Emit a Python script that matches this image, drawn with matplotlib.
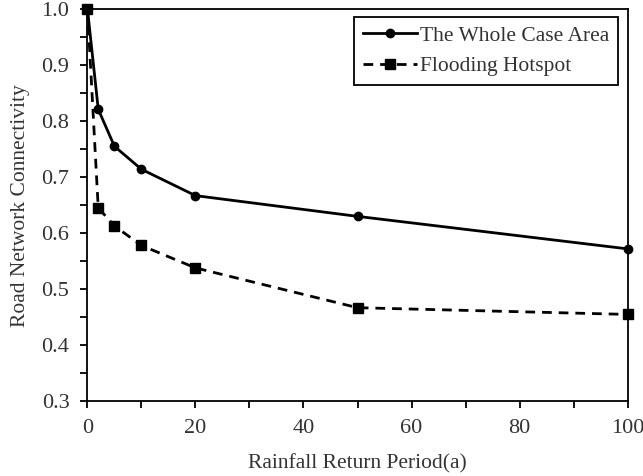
import matplotlib
matplotlib.use("Agg")
import matplotlib.pyplot as plt
from matplotlib.ticker import MultipleLocator

plt.rcParams["font.family"] = ["Liberation Serif", "DejaVu Serif"]

return_period = [0, 2, 5, 10, 20, 50, 100]
whole_area = [1.0, 0.821, 0.755, 0.714, 0.667, 0.630, 0.572]
hotspot = [1.0, 0.645, 0.613, 0.578, 0.538, 0.467, 0.455]

fig = plt.figure(figsize=(6.43, 4.76), dpi=100)
ax = fig.add_axes([0.136, 0.157, 0.840, 0.824])

ax.plot(return_period, whole_area, color="black", linewidth=2.0,
        marker="o", markersize=6, label="The Whole Case Area", clip_on=False, zorder=3)
ax.plot(return_period, hotspot, color="black", linewidth=2.0, linestyle=(0, (3.5, 2.5)),
        marker="s", markersize=6.5, label="Flooding Hotspot", clip_on=False, zorder=3)

ax.set_xlim(0, 100)
ax.set_ylim(0.3, 1.0)
ax.xaxis.set_major_locator(MultipleLocator(20))
ax.xaxis.set_minor_locator(MultipleLocator(10))
ax.yaxis.set_major_locator(MultipleLocator(0.1))
ax.yaxis.set_minor_locator(MultipleLocator(0.05))
ax.yaxis.set_major_formatter(plt.FormatStrFormatter("%.1f"))

ax.tick_params(which="both", direction="out", width=1.3, color="black",
               labelsize=16, labelcolor="#333333")
ax.tick_params(which="major", length=5, pad=8)
ax.tick_params(which="minor", length=5)
for s in ax.spines.values():
    s.set_linewidth(1.3)

ax.set_xlabel("Rainfall Return Period(a)", fontsize=15.5, color="#333333", labelpad=11)
ax.set_ylabel("Road Network Connectivity", fontsize=15.5, color="#333333", labelpad=8)

leg = ax.legend(loc="upper right", bbox_to_anchor=(0.982, 0.98), borderaxespad=0,
                fontsize=15.5, fancybox=False, framealpha=1, edgecolor="black",
                handlelength=2.5, handletextpad=0.15, borderpad=0.4, labelspacing=0.5)
leg.get_frame().set_linewidth(1.3)
for t in leg.get_texts():
    t.set_color("#333333")

fig.savefig("out.png", dpi=100)
